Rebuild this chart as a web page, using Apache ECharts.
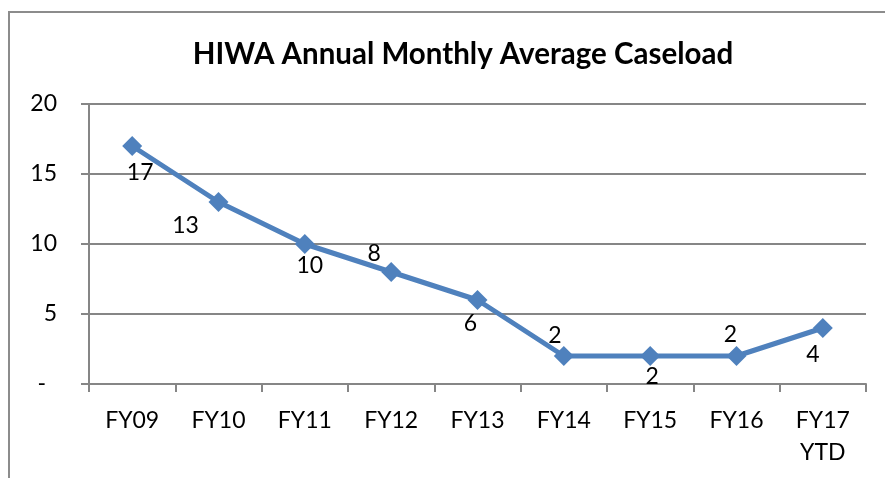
<!DOCTYPE html>
<html>
<head>
<meta charset="utf-8">
<script src="https://cdn.jsdelivr.net/npm/echarts@6/dist/echarts.min.js"></script>
<style>
  html, body { margin: 0; padding: 0; background: #fff; }
  #frame { position: absolute; left: 8px; top: 11px; width: 900px; height: 500px; border-left: 2px solid #8c8c8c; border-top: 2px solid #8c8c8c; box-sizing: border-box; }
  #chart { position: absolute; left: 0; top: 0; width: 885px; height: 478px; }
</style>
</head>
<body>
<div id="frame"></div>
<div id="chart"></div>
<script>
// Fiscal years and their average monthly caseload
const categories = ['FY09', 'FY10', 'FY11', 'FY12', 'FY13', 'FY14', 'FY15', 'FY16', 'FY17\nYTD'];
const caseload = [17, 13, 10, 8, 6, 2, 2, 2, 4];
const yTicks = [0, 5, 10, 15, 20];

// Where each value label sits relative to its marker
const labelOffsets = [[8, 27], [-33, 24], [5, 22], [-17, -18], [-7, 24], [-9, -20], [2, 21], [-6, -21], [-10, 27]];

const chart = echarts.init(document.getElementById('chart'));
const font = 'Lato, "Open Sans", sans-serif';

chart.setOption({
  animation: false,
  title: {
    text: 'HIWA Annual Monthly Average Caseload',
    left: 458, top: 34, textAlign: 'center',
    textStyle: { fontFamily: font, fontWeight: 'bold', fontSize: 29.5, color: '#000' }
  },
  grid: { left: 89, right: 19, top: 104, bottom: 94 },
  xAxis: {
    type: 'category',
    data: categories,
    boundaryGap: true,
    axisLine: { lineStyle: { color: '#868686', width: 2 } },
    axisTick: { show: true, length: 8, lineStyle: { color: '#868686', width: 2 } },
    axisLabel: { color: '#000', fontFamily: font, fontSize: 23, margin: 21, lineHeight: 32 }
  },
  yAxis: {
    type: 'value',
    min: yTicks[0], max: yTicks[yTicks.length - 1], interval: 5,
    axisLine: { show: true, lineStyle: { color: '#868686', width: 2 } },
    axisTick: { show: true, length: 8, lineStyle: { color: '#868686', width: 2 } },
    splitLine: { lineStyle: { color: '#868686', width: 2 } },
    axisLabel: {
      color: '#000', fontFamily: font, fontSize: 23, margin: 32,
      formatter: v => v === 0 ? '{dash|-}' : String(v),
      rich: { dash: { fontFamily: font, fontSize: 23, color: '#000', padding: [0, 11, 0, 0] } }
    }
  },
  series: [{
    type: 'line',
    data: caseload.map((v, i) => ({
      value: v,
      label: { offset: labelOffsets[i] }
    })),
    symbol: 'diamond',
    symbolSize: 20,
    lineStyle: { color: '#4F81BD', width: 5 },
    itemStyle: { color: '#4F81BD' },
    label: {
      show: true, position: 'inside',
      color: '#000', fontFamily: font, fontSize: 23
    }
  }]
});
</script>
</body>
</html>
